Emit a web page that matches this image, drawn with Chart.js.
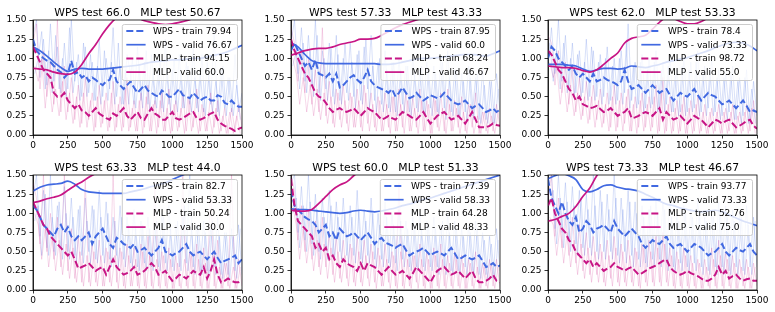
<!DOCTYPE html>
<html>
<head>
<meta charset="utf-8">
<script src="https://cdn.jsdelivr.net/npm/chart.js@4.4.0/dist/chart.umd.min.js"></script>
<style>
  html, body { margin: 0; padding: 0; background: #fff; }
  #wrap { position: relative; width: 775px; height: 312px; overflow: hidden; }
  .panel { position: absolute; width: 258px; height: 156px; }
</style>
</head>
<body>
<div id="wrap"></div>
<script>
// training steps (x) for train curves, every 25
const steps = [0,25,50,75,100,125,150,175,200,225,250,275,300,325,350,375,400,425,450,475,
  500,525,550,575,600,625,650,675,700,725,750,775,800,825,850,875,900,925,950,975,
  1000,1025,1050,1075,1100,1125,1150,1175,1200,1225,1250,1275,1300,1325,1350,1375,1400,1425,1450,1475,1500];
// in-between steps for the second raw trace
const rawSteps = [12.5,37.5,62.5,87.5,112.5,137.5,162.5,187.5,212.5,237.5,262.5,287.5,312.5,337.5,362.5,387.5,
  412.5,437.5,462.5,487.5,512.5,537.5,562.5,587.5,612.5,637.5,662.5,687.5,712.5,737.5,762.5,787.5,
  812.5,837.5,862.5,887.5,912.5,937.5,962.5,987.5,1012.5,1037.5,1062.5,1087.5,1112.5,1137.5,1162.5,1187.5,
  1212.5,1237.5,1262.5,1287.5,1312.5,1337.5,1362.5,1387.5,1412.5,1437.5,1462.5,1487.5];
// validation steps, every 50
const validSteps = [0,50,100,150,200,250,300,350,400,450,500,550,600,650,700,750,
  800,850,900,950,1000,1050,1100,1150,1200,1250,1300,1350,1400,1450,1500];

const xTicks = [0,250,500,750,1000,1250,1500];
const yTicks = [0,0.25,0.5,0.75,1.0,1.25,1.5];

const titles = [
  'WPS test 66.0   MLP test 50.67',
  'WPS test 57.33   MLP test 43.33',
  'WPS test 62.0   MLP test 53.33',
  'WPS test 63.33   MLP test 44.0',
  'WPS test 60.0   MLP test 51.33',
  'WPS test 73.33   MLP test 46.67'
];
const legendLabels = [
  ['WPS - train 79.94','WPS - valid 76.67','MLP - train 94.15','MLP - valid 60.0'],
  ['WPS - train 87.95','WPS - valid 60.0','MLP - train 68.24','MLP - valid 46.67'],
  ['WPS - train 78.4','WPS - valid 73.33','MLP - train 98.72','MLP - valid 55.0'],
  ['WPS - train 82.7','WPS - valid 53.33','MLP - train 50.24','MLP - valid 30.0'],
  ['WPS - train 77.39','WPS - valid 58.33','MLP - train 64.28','MLP - valid 48.33'],
  ['WPS - train 93.77','WPS - valid 73.33','MLP - train 52.76','MLP - valid 75.0']
];

// ---- panel 1
const wpsRaw1 = [1.30,1.50,0.75,1.25,0.65,1.45,0.70,1.15,0.55,1.20,0.60,1.50,0.70,1.05,0.50,1.15,0.55,0.95,0.45,1.25,
  0.50,1.00,0.60,1.40,0.50,0.90,0.40,1.05,0.80,0.40,1.15,0.45,0.95,0.40,1.05,0.40,0.85,0.35,1.25,0.40,
  0.85,0.40,1.05,0.35,0.95,0.40,1.15,0.35,0.80,0.30,0.95,0.40,1.35,0.30,0.85,0.35,0.75,0.30,1.05,0.30,0.55];
const wpsRawB1 = [0.80,1.00,1.35,0.60,1.10,0.55,1.30,0.60,1.00,0.50,1.40,0.55,0.95,0.45,1.20,0.50,1.05,0.45,0.90,0.40,
  1.10,0.45,0.95,0.40,1.20,0.40,0.85,0.40,1.00,0.35,0.90,0.35,1.10,0.30,0.80,0.35,0.95,0.30,0.85,0.30,
  1.00,0.30,0.80,0.35,0.90,0.30,0.75,0.30,1.05,0.25,0.80,0.30,0.70,0.25,0.90,0.25,0.75,0.25,0.65,0.20];
const mlpRaw1 = [1.20,1.45,0.60,1.10,0.50,0.95,0.40,1.50,0.30,0.90,0.30,0.75,0.20,0.65,0.15,0.75,0.20,0.55,0.10,0.65,
  0.15,0.55,0.10,0.70,0.10,0.50,0.10,0.75,0.10,0.45,0.05,0.55,0.10,0.65,0.05,0.45,0.10,0.55,0.05,0.60,
  0.05,0.45,0.10,0.55,0.05,0.45,0.10,0.60,0.05,0.35,0.05,0.55,0.10,0.45,0.05,0.35,0.02,0.35,0.05,0.40,0.10];
const mlpRawB1 = [0.90,0.70,1.00,0.35,0.80,0.30,0.60,0.25,0.70,0.20,0.55,0.15,0.50,0.10,0.55,0.10,0.45,0.05,0.50,0.10,
  0.45,0.05,0.55,0.05,0.40,0.05,0.60,0.05,0.35,0.05,0.45,0.02,0.50,0.05,0.40,0.02,0.45,0.05,0.35,0.02,
  0.40,0.05,0.35,0.02,0.50,0.05,0.30,0.02,0.40,0.05,0.30,0.02,0.35,0.02,0.25,0.02,0.30,0.02,0.25,0.02];
const wpsTrain1 = [1.25,1.10,1.05,1.00,0.97,0.95,0.90,0.85,0.82,0.75,0.80,0.97,0.80,0.82,0.75,0.78,0.70,0.75,0.72,0.68,
  0.65,0.70,0.72,0.85,0.70,0.65,0.60,0.65,0.70,0.62,0.55,0.60,0.65,0.58,0.55,0.52,0.50,0.58,0.55,0.50,
  0.50,0.55,0.60,0.52,0.50,0.48,0.55,0.50,0.45,0.48,0.50,0.45,0.45,0.52,0.50,0.42,0.40,0.45,0.40,0.37,0.37];
const mlpTrain1 = [1.15,1.05,0.95,0.85,0.80,0.75,0.55,0.50,0.50,0.55,0.45,0.40,0.35,0.40,0.32,0.30,0.25,0.30,0.35,0.28,
  0.25,0.22,0.20,0.28,0.25,0.30,0.35,0.25,0.20,0.25,0.30,0.22,0.20,0.28,0.35,0.28,0.25,0.20,0.20,0.25,
  0.30,0.22,0.20,0.22,0.25,0.28,0.30,0.22,0.20,0.22,0.25,0.28,0.30,0.20,0.15,0.12,0.10,0.08,0.05,0.08,0.10];
const wpsValid1 = [1.15,1.10,1.03,0.95,0.88,0.83,0.86,0.87,0.86,0.86,0.86,0.87,0.88,0.89,0.90,0.91,
  0.93,0.95,0.96,0.97,0.98,0.98,0.99,1.00,1.00,1.02,1.04,1.06,1.09,1.13,1.17];
const mlpValid1 = [0.87,0.86,0.85,0.82,0.80,0.79,0.82,0.92,1.06,1.18,1.32,1.44,1.53,1.58,1.57,1.53,
  1.49,1.47,1.45,1.44,1.45,1.47,1.49,1.52,1.55,1.58,1.60,1.62,1.63,1.64,1.65];

// ---- panel 2
const wpsRaw2 = [1.20,1.50,0.80,1.40,0.70,1.30,0.65,1.50,0.55,1.10,0.60,1.20,0.50,1.30,0.45,1.00,0.55,1.20,0.50,1.05,
  0.45,1.15,0.60,1.30,0.45,0.95,0.40,1.10,0.35,0.95,0.30,1.00,0.40,0.90,0.30,1.05,0.35,0.85,0.30,0.95,
  0.35,0.90,0.30,1.00,0.35,1.10,0.30,0.85,0.25,0.80,0.30,0.90,0.25,0.75,0.20,0.85,0.20,0.70,0.15,0.80,0.30];
const wpsRawB2 = [0.90,1.10,0.60,1.20,0.55,1.10,0.50,1.30,0.45,1.00,0.45,1.15,0.40,1.05,0.40,1.20,0.45,0.95,0.35,1.10,
  0.40,1.25,0.35,0.90,0.30,1.00,0.30,0.85,0.30,0.95,0.25,0.85,0.30,0.90,0.25,0.80,0.30,0.90,0.25,0.85,
  0.25,0.80,0.25,0.95,0.20,0.75,0.25,0.85,0.20,0.70,0.20,0.75,0.20,0.80,0.15,0.65,0.15,0.70,0.15,0.60];
const mlpRaw2 = [1.40,1.20,0.70,1.10,0.55,1.00,0.40,0.85,0.30,1.40,0.25,0.70,0.15,0.60,0.20,0.65,0.15,0.55,0.10,0.60,
  0.10,0.65,0.15,0.55,0.10,0.50,0.05,0.55,0.10,0.50,0.05,0.60,0.10,0.55,0.05,0.50,0.10,0.60,0.05,0.45,
  0.02,0.50,0.10,0.55,0.05,0.60,0.05,0.45,0.10,0.50,0.05,0.40,0.10,0.55,0.02,0.30,0.05,0.35,0.05,0.40,0.10];
const mlpRawB2 = [1.00,0.80,0.40,0.75,0.30,0.65,0.25,0.60,0.20,0.55,0.15,0.50,0.10,0.55,0.10,0.45,0.05,0.50,0.10,0.45,
  0.05,0.55,0.05,0.40,0.05,0.45,0.05,0.40,0.02,0.50,0.05,0.40,0.02,0.45,0.05,0.35,0.02,0.45,0.05,0.40,
  0.02,0.45,0.05,0.35,0.02,0.40,0.05,0.35,0.02,0.30,0.02,0.40,0.02,0.25,0.02,0.30,0.02,0.25,0.02,0.30];
const wpsTrain2 = [1.10,1.20,1.10,1.00,0.90,0.95,0.85,0.98,0.80,0.78,0.75,0.80,0.70,0.80,0.62,0.65,0.70,0.75,0.78,0.72,
  0.68,0.75,0.85,0.70,0.65,0.62,0.60,0.58,0.55,0.60,0.50,0.55,0.62,0.55,0.48,0.50,0.55,0.50,0.45,0.48,
  0.52,0.50,0.48,0.50,0.55,0.50,0.45,0.42,0.40,0.42,0.45,0.40,0.35,0.38,0.40,0.35,0.30,0.32,0.35,0.30,0.33];
const mlpTrain2 = [1.25,1.10,1.00,0.90,0.80,0.75,0.65,0.55,0.50,0.48,0.42,0.35,0.30,0.33,0.35,0.32,0.30,0.32,0.35,0.30,
  0.25,0.30,0.35,0.32,0.30,0.25,0.20,0.22,0.25,0.22,0.20,0.25,0.30,0.28,0.25,0.22,0.20,0.25,0.30,0.22,
  0.15,0.20,0.25,0.28,0.30,0.25,0.20,0.22,0.25,0.20,0.15,0.22,0.30,0.20,0.10,0.10,0.10,0.12,0.15,0.13,0.12];
const wpsValid2 = [1.20,1.15,1.05,0.97,0.94,0.93,0.93,0.93,0.93,0.93,0.93,0.93,0.93,0.92,0.92,0.93,
  0.95,0.97,0.99,1.00,1.00,1.01,1.02,1.03,1.04,1.05,1.05,1.04,1.03,1.06,1.10];
const mlpValid2 = [1.04,1.07,1.10,1.12,1.13,1.13,1.15,1.18,1.20,1.22,1.25,1.25,1.26,1.30,1.35,1.40,
  1.44,1.47,1.50,1.53,1.56,1.58,1.60,1.62,1.63,1.64,1.65,1.66,1.67,1.68,1.70];

// ---- panel 3
const wpsRaw3 = [0.90,1.40,0.80,1.50,0.70,1.30,0.60,1.20,0.55,1.10,0.55,1.25,0.50,1.10,0.50,1.05,0.50,1.15,0.45,1.00,
  0.45,1.10,0.55,1.45,0.45,0.95,0.40,1.05,0.35,1.00,0.40,1.10,0.35,0.95,0.40,1.05,0.30,0.85,0.30,1.00,
  0.30,0.95,0.35,1.10,0.30,0.90,0.35,1.00,0.30,0.85,0.25,0.80,0.30,0.90,0.20,0.75,0.25,0.85,0.15,0.70,0.25];
const wpsRawB3 = [1.20,0.70,1.10,0.60,1.20,0.55,1.00,0.50,1.05,0.50,0.95,0.45,1.15,0.45,0.95,0.40,1.00,0.40,0.90,0.40,
  1.00,0.40,1.20,0.35,0.90,0.35,0.95,0.30,0.85,0.35,0.95,0.30,0.85,0.30,0.90,0.30,0.80,0.25,0.90,0.25,
  0.85,0.30,0.95,0.25,0.80,0.25,0.85,0.25,0.75,0.20,0.75,0.20,0.80,0.20,0.70,0.15,0.75,0.15,0.60,0.15];
const mlpRaw3 = [1.30,1.20,0.65,1.10,0.55,0.95,0.40,0.90,0.30,0.75,0.25,0.70,0.20,0.65,0.20,0.60,0.15,0.55,0.10,0.65,
  0.10,0.55,0.15,0.60,0.05,0.50,0.10,0.55,0.10,0.50,0.10,0.65,0.05,0.75,0.05,0.50,0.05,0.45,0.05,0.50,
  0.02,0.45,0.05,0.50,0.05,0.40,0.02,0.35,0.05,0.40,0.02,0.35,0.05,0.40,0.02,0.30,0.05,0.40,0.05,0.45,0.02];
const mlpRawB3 = [0.95,0.75,0.90,0.40,0.75,0.30,0.65,0.25,0.55,0.20,0.50,0.15,0.50,0.10,0.45,0.10,0.40,0.05,0.50,0.05,
  0.45,0.05,0.50,0.05,0.40,0.02,0.45,0.05,0.40,0.05,0.50,0.02,0.55,0.02,0.40,0.02,0.35,0.02,0.40,0.02,
  0.35,0.02,0.40,0.02,0.30,0.02,0.30,0.02,0.30,0.02,0.30,0.02,0.30,0.02,0.25,0.02,0.30,0.02,0.35,0.02];
const wpsTrain3 = [1.00,1.15,1.10,1.00,0.95,0.90,0.85,0.90,0.80,0.75,0.80,0.75,0.70,0.80,0.70,0.72,0.75,0.72,0.70,0.68,
  0.65,0.70,0.85,0.70,0.60,0.62,0.65,0.60,0.55,0.60,0.65,0.60,0.55,0.58,0.60,0.52,0.45,0.50,0.55,0.52,
  0.50,0.55,0.60,0.52,0.45,0.50,0.55,0.52,0.50,0.45,0.40,0.42,0.45,0.40,0.35,0.40,0.45,0.38,0.30,0.32,0.30];
const mlpTrain3 = [1.10,1.05,0.95,0.85,0.80,0.70,0.60,0.55,0.45,0.50,0.40,0.38,0.35,0.36,0.38,0.34,0.30,0.32,0.35,0.30,
  0.25,0.28,0.30,0.35,0.22,0.23,0.25,0.28,0.30,0.28,0.25,0.30,0.35,0.20,0.30,0.25,0.20,0.22,0.25,0.20,
  0.15,0.20,0.25,0.22,0.20,0.15,0.10,0.15,0.20,0.18,0.15,0.18,0.20,0.15,0.10,0.12,0.15,0.18,0.20,0.12,0.08];
const wpsValid3 = [0.92,0.92,0.92,0.91,0.90,0.86,0.83,0.85,0.87,0.87,0.86,0.87,0.90,0.89,0.88,0.90,
  0.92,0.95,0.97,0.99,1.01,1.04,1.07,1.10,1.14,1.17,1.20,1.21,1.20,1.16,1.10];
const mlpValid3 = [0.90,0.89,0.88,0.88,0.87,0.84,0.82,0.85,0.92,1.00,1.07,1.20,1.26,1.28,1.30,1.38,
  1.47,1.53,1.52,1.48,1.45,1.45,1.48,1.53,1.57,1.60,1.62,1.63,1.64,1.65,1.66];

// ---- panel 4
const wpsRaw4 = [1.20,1.50,0.70,1.30,0.55,1.50,0.50,1.10,0.55,1.35,0.50,1.20,0.45,1.05,0.45,1.20,0.50,1.10,0.40,1.30,
  0.45,1.15,0.40,0.95,0.45,1.10,0.40,0.95,0.35,1.05,0.30,0.90,0.35,0.95,0.30,0.85,0.30,1.00,0.35,1.10,
  0.30,0.85,0.30,0.95,0.35,1.50,0.30,0.85,0.25,0.90,0.25,0.80,0.30,0.95,0.20,0.75,0.20,0.80,0.25,0.85,0.20];
const wpsRawB4 = [0.90,1.10,0.45,1.25,0.45,0.95,0.45,1.15,0.40,1.00,0.40,0.95,0.35,1.10,0.35,0.90,0.35,1.05,0.35,0.95,
  0.35,1.00,0.30,0.90,0.30,0.95,0.30,0.85,0.30,0.80,0.25,0.85,0.25,0.80,0.25,0.90,0.25,0.95,0.25,0.80,
  0.25,0.90,0.25,1.10,0.25,0.80,0.20,0.85,0.20,0.75,0.20,0.90,0.20,0.70,0.15,0.75,0.15,0.70,0.15,0.80];
const mlpRaw4 = [1.40,1.20,0.60,1.50,0.50,1.00,0.40,0.95,0.30,1.50,0.25,0.80,0.15,0.70,0.10,1.45,0.10,0.60,0.10,0.65,
  0.05,0.55,0.10,1.50,0.10,0.55,0.05,0.60,0.05,0.55,0.05,0.60,0.05,0.70,0.05,1.40,0.05,0.50,0.05,0.55,
  0.02,0.45,0.05,1.50,0.05,0.50,0.05,0.60,0.05,0.55,0.02,1.40,0.05,0.65,0.02,0.35,0.05,1.50,0.02,0.40,0.05];
const mlpRawB4 = [1.00,0.85,0.40,0.80,0.30,0.70,0.25,0.65,0.20,0.60,0.15,0.55,0.10,0.50,0.05,0.45,0.05,0.50,0.05,0.45,
  0.05,0.50,0.05,0.45,0.02,0.50,0.02,0.45,0.05,0.40,0.02,0.50,0.02,0.45,0.02,0.40,0.02,0.45,0.02,0.40,
  0.02,0.35,0.02,0.40,0.02,0.45,0.02,0.40,0.02,0.35,0.02,0.45,0.02,0.30,0.02,0.35,0.02,0.30,0.02,0.30];
const wpsTrain4 = [1.10,1.05,0.95,0.85,0.80,0.75,0.70,0.80,0.85,0.75,0.82,0.70,0.65,0.70,0.65,0.70,0.75,0.60,0.70,0.75,
  0.80,0.70,0.60,0.55,0.68,0.65,0.60,0.58,0.55,0.60,0.50,0.52,0.55,0.50,0.45,0.50,0.55,0.65,0.50,0.48,
  0.45,0.48,0.50,0.55,0.60,0.50,0.45,0.48,0.50,0.45,0.40,0.45,0.50,0.42,0.35,0.38,0.40,0.42,0.45,0.35,0.40];
const mlpTrain4 = [1.15,1.05,0.95,0.85,0.80,0.70,0.65,0.60,0.55,0.50,0.45,0.50,0.40,0.28,0.30,0.32,0.35,0.30,0.25,0.28,
  0.30,0.20,0.30,0.40,0.30,0.25,0.20,0.22,0.25,0.30,0.20,0.22,0.25,0.30,0.35,0.30,0.20,0.22,0.25,0.18,
  0.12,0.15,0.20,0.18,0.15,0.20,0.25,0.22,0.20,0.30,0.15,0.25,0.40,0.20,0.10,0.12,0.15,0.12,0.10,0.10,0.12];
const wpsValid4 = [1.29,1.34,1.37,1.38,1.39,1.42,1.38,1.31,1.28,1.27,1.26,1.26,1.26,1.26,1.28,1.30,
  1.32,1.35,1.37,1.40,1.44,1.48,1.52,1.56,1.60,1.63,1.66,1.68,1.70,1.72,1.74];
const mlpValid4 = [1.14,1.16,1.19,1.21,1.24,1.30,1.36,1.41,1.47,1.52,1.56,1.60,1.62,1.64,1.65,1.66,
  1.67,1.68,1.69,1.70,1.71,1.72,1.73,1.74,1.75,1.76,1.77,1.78,1.79,1.80,1.81];

// ---- panel 5
const wpsRaw5 = [1.40,1.50,0.75,1.35,0.65,1.50,0.60,1.25,0.50,1.20,0.55,1.30,0.45,1.15,0.50,1.20,0.45,1.10,0.45,1.30,
  0.40,1.05,0.45,1.20,0.40,1.00,0.40,1.15,0.35,1.00,0.35,1.05,0.40,0.90,0.30,0.95,0.30,1.00,0.30,0.90,
  0.30,0.95,0.30,0.85,0.30,1.00,0.25,0.90,0.25,0.80,0.30,0.85,0.25,0.90,0.20,0.75,0.20,0.70,0.15,0.80,0.25];
const wpsRawB5 = [1.00,1.20,0.55,1.10,0.50,1.15,0.45,1.05,0.40,0.95,0.40,1.10,0.40,0.95,0.40,1.00,0.35,0.95,0.35,1.05,
  0.35,0.90,0.35,1.00,0.30,0.85,0.30,0.95,0.30,0.85,0.25,0.90,0.30,0.80,0.25,0.85,0.25,0.80,0.25,0.85,
  0.25,0.80,0.20,0.90,0.20,0.75,0.20,0.80,0.20,0.70,0.20,0.75,0.20,0.80,0.15,0.65,0.15,0.60,0.15,0.65];
const mlpRaw5 = [1.50,1.30,0.65,1.10,0.50,1.05,0.40,0.90,0.30,0.95,0.30,0.75,0.20,0.70,0.15,0.65,0.15,0.60,0.10,0.70,
  0.10,0.65,0.15,0.60,0.10,0.55,0.05,0.60,0.10,0.50,0.05,1.40,0.05,0.55,0.05,0.45,0.10,0.60,0.05,0.50,
  0.02,0.55,0.05,0.60,0.05,0.45,0.05,0.50,0.05,0.45,0.02,0.40,0.05,0.50,0.02,0.35,0.05,0.40,0.05,0.40,0.02];
const mlpRawB5 = [1.10,0.85,0.40,0.80,0.35,0.70,0.25,0.65,0.20,0.60,0.15,0.55,0.10,0.50,0.10,0.45,0.05,0.55,0.05,0.50,
  0.05,0.45,0.05,0.50,0.02,0.45,0.05,0.40,0.02,0.45,0.02,0.50,0.02,0.40,0.02,0.45,0.02,0.40,0.02,0.40,
  0.02,0.45,0.02,0.40,0.02,0.35,0.02,0.40,0.02,0.35,0.02,0.35,0.02,0.30,0.02,0.30,0.02,0.35,0.02,0.30];
const wpsTrain5 = [1.30,1.10,1.05,1.00,0.95,0.92,0.90,0.85,0.75,0.80,0.85,0.70,0.75,0.65,0.80,0.75,0.70,0.72,0.75,0.70,
  0.65,0.70,0.75,0.68,0.60,0.65,0.68,0.62,0.60,0.58,0.55,0.58,0.60,0.52,0.45,0.48,0.50,0.52,0.55,0.50,
  0.45,0.48,0.50,0.48,0.45,0.50,0.55,0.48,0.40,0.42,0.45,0.42,0.40,0.42,0.45,0.38,0.30,0.32,0.35,0.30,0.32];
const mlpTrain5 = [1.45,1.10,0.90,0.85,0.80,0.75,0.70,0.55,0.60,0.50,0.55,0.40,0.45,0.35,0.30,0.40,0.35,0.32,0.30,0.25,
  0.35,0.25,0.35,0.32,0.30,0.25,0.20,0.25,0.30,0.25,0.20,0.22,0.25,0.20,0.15,0.22,0.30,0.25,0.20,0.15,
  0.10,0.18,0.25,0.28,0.30,0.25,0.20,0.22,0.25,0.20,0.15,0.20,0.25,0.15,0.10,0.10,0.12,0.15,0.20,0.12,0.10];
const wpsValid5 = [1.06,1.05,1.05,1.04,1.03,1.02,1.01,1.00,1.01,1.03,1.04,1.03,1.02,1.03,1.05,1.07,
  1.10,1.12,1.15,1.18,1.20,1.23,1.26,1.29,1.32,1.35,1.38,1.41,1.44,1.47,1.50];
const mlpValid5 = [1.04,1.03,1.03,1.05,1.13,1.22,1.31,1.37,1.41,1.49,1.56,1.60,1.63,1.65,1.66,1.67,
  1.68,1.69,1.70,1.71,1.72,1.73,1.74,1.75,1.76,1.77,1.78,1.79,1.80,1.81,1.82];

// ---- panel 6
const wpsRaw6 = [1.50,1.50,0.80,1.50,0.75,1.40,0.65,1.35,0.60,1.30,0.55,1.25,0.55,1.50,0.50,1.30,0.50,1.25,0.50,1.50,
  0.45,1.20,0.50,1.30,0.45,1.15,0.40,1.10,0.35,1.05,0.40,1.20,0.40,1.15,0.35,1.25,0.30,1.00,0.35,1.10,
  0.30,1.05,0.35,1.20,0.30,0.95,0.25,1.00,0.30,1.15,0.30,1.10,0.25,1.05,0.30,1.00,0.25,1.10,0.30,0.95,0.30];
const wpsRawB6 = [1.10,1.30,0.60,1.20,0.55,1.15,0.50,1.10,0.45,1.20,0.45,1.05,0.45,1.10,0.40,1.15,0.40,1.05,0.40,1.20,
  0.35,1.05,0.35,1.15,0.30,1.00,0.30,0.95,0.30,1.10,0.30,1.00,0.30,1.05,0.25,0.95,0.25,0.90,0.25,1.00,
  0.25,0.95,0.25,1.00,0.20,0.90,0.20,0.95,0.20,1.05,0.20,0.95,0.20,0.90,0.20,0.95,0.20,0.85,0.20,0.90];
const mlpRaw6 = [1.20,1.50,0.70,1.20,0.55,1.00,0.45,0.95,0.35,0.85,0.25,0.75,0.20,0.70,0.20,0.60,0.10,0.65,0.15,0.70,
  0.10,0.60,0.10,0.65,0.10,0.55,0.05,0.60,0.10,0.65,0.10,0.70,0.10,0.75,0.10,0.55,0.05,0.50,0.05,0.55,
  0.05,0.45,0.05,0.40,0.02,0.40,0.05,0.55,0.05,0.65,0.05,0.50,0.05,0.45,0.02,0.40,0.05,0.40,0.02,0.35,0.05];
const mlpRawB6 = [0.95,0.85,0.45,0.85,0.35,0.75,0.30,0.65,0.20,0.60,0.15,0.55,0.10,0.50,0.10,0.50,0.05,0.45,0.05,0.55,
  0.05,0.50,0.05,0.45,0.05,0.50,0.02,0.55,0.05,0.50,0.05,0.55,0.05,0.60,0.05,0.45,0.02,0.40,0.02,0.45,
  0.02,0.35,0.02,0.35,0.02,0.30,0.02,0.40,0.02,0.45,0.02,0.40,0.02,0.35,0.02,0.30,0.02,0.30,0.02,0.30];
const wpsTrain6 = [1.45,1.20,1.10,1.00,1.15,1.00,0.90,0.85,0.95,0.75,0.80,0.90,0.85,0.75,0.80,0.82,0.85,0.80,0.75,0.90,
  0.80,0.75,0.70,0.75,0.80,0.75,0.70,0.60,0.55,0.60,0.65,0.62,0.60,0.65,0.70,0.60,0.55,0.58,0.60,0.55,
  0.50,0.55,0.60,0.58,0.55,0.50,0.45,0.48,0.50,0.55,0.60,0.50,0.45,0.50,0.55,0.52,0.50,0.55,0.60,0.50,0.45];
const mlpTrain6 = [1.10,1.20,1.00,0.90,0.80,0.75,0.65,0.60,0.50,0.45,0.40,0.35,0.40,0.30,0.35,0.30,0.25,0.28,0.30,0.35,
  0.30,0.28,0.25,0.28,0.30,0.25,0.20,0.22,0.25,0.28,0.30,0.32,0.35,0.38,0.40,0.30,0.25,0.22,0.20,0.22,
  0.25,0.22,0.20,0.18,0.15,0.12,0.12,0.15,0.20,0.30,0.20,0.25,0.15,0.18,0.20,0.15,0.12,0.14,0.15,0.12,0.12];
const wpsValid6 = [1.45,1.49,1.52,1.49,1.44,1.31,1.28,1.31,1.36,1.37,1.34,1.32,1.31,1.29,1.25,1.21,
  1.16,1.12,1.10,1.07,1.05,1.03,1.02,1.03,1.04,1.02,0.98,0.94,0.90,0.87,0.84];
const mlpValid6 = [0.90,0.92,0.96,1.00,1.09,1.22,1.33,1.49,1.60,1.65,1.68,1.70,1.71,1.72,1.73,1.74,
  1.75,1.76,1.77,1.78,1.79,1.80,1.81,1.82,1.83,1.84,1.85,1.86,1.87,1.88,1.89];

const panels = [
  [wpsRaw1, mlpRaw1, wpsTrain1, mlpTrain1, wpsValid1, mlpValid1, wpsRawB1, mlpRawB1],
  [wpsRaw2, mlpRaw2, wpsTrain2, mlpTrain2, wpsValid2, mlpValid2, wpsRawB2, mlpRawB2],
  [wpsRaw3, mlpRaw3, wpsTrain3, mlpTrain3, wpsValid3, mlpValid3, wpsRawB3, mlpRawB3],
  [wpsRaw4, mlpRaw4, wpsTrain4, mlpTrain4, wpsValid4, mlpValid4, wpsRawB4, mlpRawB4],
  [wpsRaw5, mlpRaw5, wpsTrain5, mlpTrain5, wpsValid5, mlpValid5, wpsRawB5, mlpRawB5],
  [wpsRaw6, mlpRaw6, wpsTrain6, mlpTrain6, wpsValid6, mlpValid6, wpsRawB6, mlpRawB6]
];

const FONT = "'DejaVu Sans', sans-serif";
const BLUE = '#4169e1';
const PINK = '#c71585';
const BLUE_RAW = 'rgba(65,105,225,0.2)';
const PINK_RAW = 'rgba(199,21,133,0.17)';
const DASH = [7, 3];

function pts(xs, ys) {
  return ys.map((y, i) => ({ x: xs[i], y: y }));
}

// axes box, title and matplotlib-like legend
const framePlugin = {
  id: 'frame',
  afterDatasetsDraw(chart, args, opts) {
    const ctx = chart.ctx;
    const a = chart.chartArea;
    ctx.save();
    ctx.strokeStyle = '#000';
    ctx.lineWidth = 0.8;
    ctx.strokeRect(a.left, a.top, a.right - a.left, a.bottom - a.top);

    // legend
    ctx.font = '9px ' + FONT;
    const maxW = Math.max(...opts.labels.map(l => ctx.measureText(l).width));
    const right = a.right - 4.5, top = a.top + 4.5;
    const w = maxW + 36, h = 56, left = right - w;
    ctx.beginPath();
    ctx.roundRect(left, top, w, h, 2);
    ctx.fillStyle = 'rgba(255,255,255,0.8)';
    ctx.fill();
    ctx.strokeStyle = '#cccccc';
    ctx.lineWidth = 1;
    ctx.stroke();
    const colors = [BLUE, BLUE, PINK, PINK];
    opts.labels.forEach((lab, i) => {
      const y = top + 6.5 + i * 13.7;
      ctx.beginPath();
      ctx.setLineDash(i % 2 === 0 ? DASH : []);
      ctx.strokeStyle = colors[i];
      ctx.lineWidth = i % 2 === 0 ? 2 : 1.7;
      ctx.moveTo(left + 4, y);
      ctx.lineTo(left + 23.3, y);
      ctx.stroke();
      ctx.setLineDash([]);
      ctx.fillStyle = '#000';
      ctx.textBaseline = 'middle';
      ctx.textAlign = 'left';
      ctx.fillText(lab, left + 30.6, y + 0.5);
    });

    // title
    ctx.font = '10.8px ' + FONT;
    ctx.textAlign = 'center';
    ctx.textBaseline = 'alphabetic';
    ctx.fillText(opts.title, (a.left + a.right) / 2, opts.titleY);
    ctx.restore();
  }
};

const wrap = document.getElementById('wrap');
const colLeft = [0, 258, 515];
const rowTop = [0, 156];

panels.forEach((p, i) => {
  const col = i % 3, row = Math.floor(i / 3);
  const div = document.createElement('div');
  div.className = 'panel';
  div.style.left = colLeft[col] + 'px';
  div.style.top = rowTop[row] + 'px';
  const cv = document.createElement('canvas');
  cv.width = 258;
  cv.height = 156;
  div.appendChild(cv);
  wrap.appendChild(div);

  const areaTop = row === 0 ? 20 : 19;
  const areaBottom = row === 0 ? 135 : 134;

  const tickGrid = {
    display: true, drawOnChartArea: false, drawTicks: true,
    tickLength: 3.5, tickColor: '#000', tickWidth: 0.8
  };
  const axisBorder = { display: true, color: '#000', width: 0.8 };

  new Chart(cv, {
    type: 'line',
    data: {
      datasets: [
        { data: pts(steps, p[0]), borderColor: BLUE_RAW, borderWidth: 1, order: 8 },
        { data: pts(rawSteps, p[6]), borderColor: BLUE_RAW, borderWidth: 1, order: 7 },
        { data: pts(steps, p[1]), borderColor: PINK_RAW, borderWidth: 1, order: 6 },
        { data: pts(rawSteps, p[7]), borderColor: PINK_RAW, borderWidth: 1, order: 5 },
        { data: pts(steps, p[2]), borderColor: BLUE, borderWidth: 2, borderDash: DASH, order: 4 },
        { data: pts(validSteps, p[4]), borderColor: BLUE, borderWidth: 1.7, tension: 0.4, cubicInterpolationMode: 'monotone', order: 3 },
        { data: pts(steps, p[3]), borderColor: PINK, borderWidth: 2, borderDash: DASH, order: 2 },
        { data: pts(validSteps, p[5]), borderColor: PINK, borderWidth: 1.7, tension: 0.4, cubicInterpolationMode: 'monotone', order: 1 }
      ]
    },
    options: {
      responsive: false,
      animation: false,
      devicePixelRatio: 1,
      events: [],
      elements: { point: { radius: 0 }, line: { tension: 0 } },
      layout: { padding: { left: 0, right: 16, top: areaTop, bottom: 0 } },
      scales: {
        x: {
          type: 'linear', min: 0, max: 1500,
          afterFit(s) { s.height = 156 - areaBottom; },
          afterBuildTicks(s) { s.ticks = xTicks.map(v => ({ value: v })); },
          ticks: { color: '#000', font: { family: FONT, size: 9 }, padding: 2, maxRotation: 0, autoSkip: false,
                   callback: v => String(v) },
          grid: tickGrid,
          border: axisBorder
        },
        y: {
          type: 'linear', min: 0, max: 1.5,
          afterFit(s) { s.width = 33; },
          afterBuildTicks(s) { s.ticks = yTicks.map(v => ({ value: v })); },
          ticks: { color: '#000', font: { family: FONT, size: 9 }, padding: 3,
                   callback: v => v.toFixed(2) },
          grid: tickGrid,
          border: axisBorder
        }
      },
      plugins: {
        legend: { display: false },
        tooltip: { enabled: false },
        title: { display: false },
        frame: { title: titles[i], titleY: row === 0 ? 16 : 15, labels: legendLabels[i] }
      }
    },
    plugins: [framePlugin]
  });
});
</script>
</body>
</html>
